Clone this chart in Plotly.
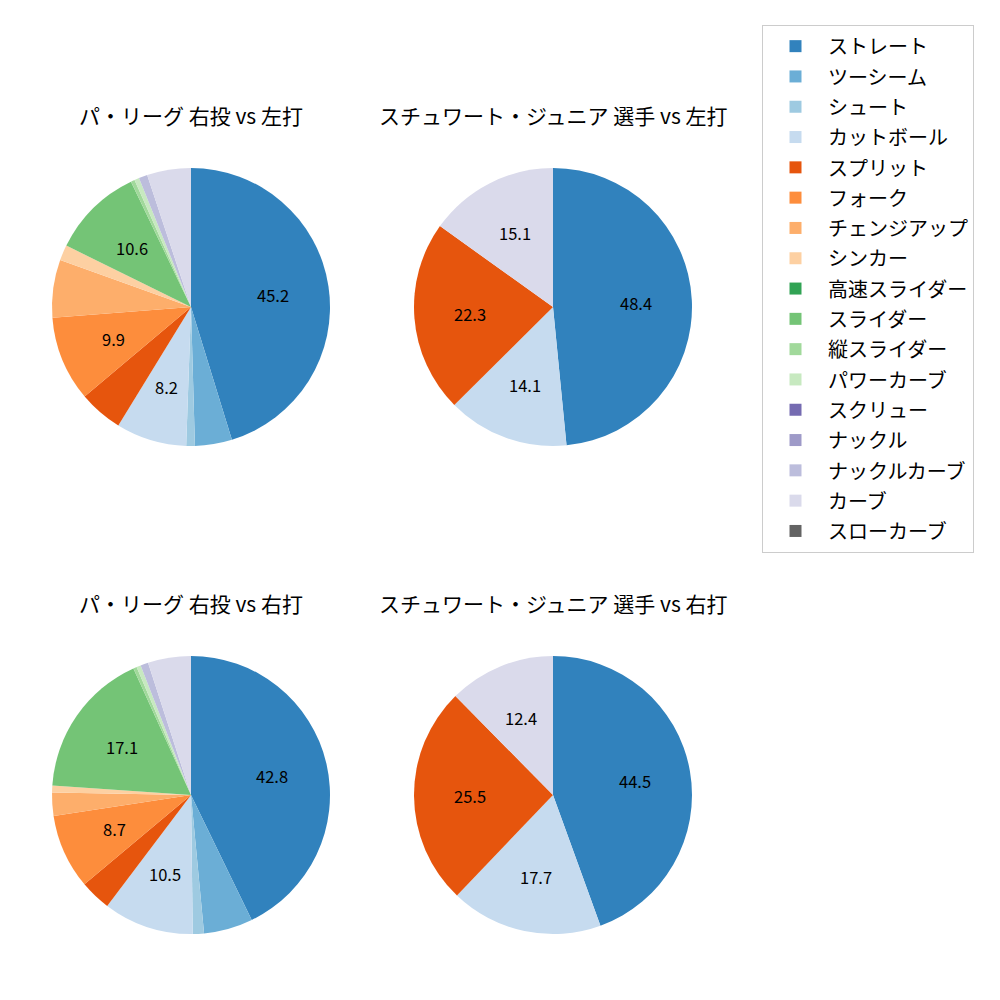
import math
import plotly.graph_objects as go

pitch_types = ["ストレート", "ツーシーム", "シュート", "カットボール", "スプリット", "フォーク",
               "チェンジアップ", "シンカー", "高速スライダー", "スライダー", "縦スライダー",
               "パワーカーブ", "スクリュー", "ナックル", "ナックルカーブ", "カーブ", "スローカーブ"]
colors = ["#3182bd", "#6baed6", "#9ecae1", "#c6dbef", "#e6550d", "#fd8d3c", "#fdae6b", "#fdd0a2",
          "#31a354", "#74c476", "#a1d99b", "#c7e9c0", "#756bb1", "#9e9ac8", "#bcbddc", "#dadaeb",
          "#636363"]

# percentages per pitch type (same order as pitch_types)
league_vs_left = [45.2, 4.3, 1.0, 8.2, 5.1, 9.9, 6.7, 1.8, 0.0, 10.6, 0.45, 0.55, 0.0, 0.0, 1.0, 5.1, 0.0]
player_vs_left = [48.4, 0.0, 0.0, 14.1, 22.3, 0.0, 0.0, 0.0, 0.0, 0.0, 0.0, 0.0, 0.0, 0.0, 0.0, 15.1, 0.0]
league_vs_right = [42.8, 5.7, 1.3, 10.5, 3.6, 8.7, 2.7, 0.8, 0.0, 17.1, 0.4, 0.5, 0.0, 0.0, 0.9, 5.0, 0.0]
player_vs_right = [44.5, 0.0, 0.0, 17.7, 25.5, 0.0, 0.0, 0.0, 0.0, 0.0, 0.0, 0.0, 0.0, 0.0, 0.0, 12.4, 0.0]

titles = ["パ・リーグ 右投 vs 左打", "スチュワート・ジュニア 選手 vs 左打",
          "パ・リーグ 右投 vs 右打", "スチュワート・ジュニア 選手 vs 右打"]

FONT = "Noto Sans CJK JP"
LABEL_MIN = 8.0

domains = [
    dict(x=[0.052, 0.330], y=[0.554, 0.832]),
    dict(x=[0.414, 0.692], y=[0.554, 0.832]),
    dict(x=[0.052, 0.330], y=[0.066, 0.344]),
    dict(x=[0.414, 0.692], y=[0.066, 0.344]),
]

legend_labels = [f"<span style='font-size:20px'>{p}</span>" for p in pitch_types]

fig = go.Figure()
for i, vals in enumerate([league_vs_left, player_vs_left, league_vs_right, player_vs_right]):
    d = domains[i]
    fig.add_trace(go.Pie(
        labels=legend_labels, values=vals,
        textinfo="none",
        marker=dict(colors=colors, line=dict(width=0)),
        sort=False, direction="clockwise", rotation=0,
        domain=d, showlegend=(i == 0), hoverinfo="percent",
    ))
    # percentage labels at 0.6 of the radius along each slice's bisector (matplotlib autopct style)
    total = sum(vals)
    cx = (d["x"][0] + d["x"][1]) / 2
    cy = (d["y"][0] + d["y"][1]) / 2
    r = (d["x"][1] - d["x"][0]) / 2
    cum = 0.0
    for v in vals:
        if v >= LABEL_MIN:
            mid = 2 * math.pi * (cum + v / 2) / total
            fig.add_annotation(text=f"{v:.1f}", x=cx + 0.6 * r * math.sin(mid),
                               y=cy + 0.6 * r * math.cos(mid), xref="paper", yref="paper",
                               xanchor="center", yanchor="middle", showarrow=False,
                               font=dict(family=FONT, size=16.5, color="black"))
        cum += v

for i, t in enumerate(titles):
    d = domains[i]
    fig.add_annotation(text=t, x=(d["x"][0] + d["x"][1]) / 2, y=d["y"][1] + 0.053,
                       xref="paper", yref="paper", xanchor="center", yanchor="middle",
                       showarrow=False, font=dict(family=FONT, size=21, color="black"))

fig.update_layout(
    width=1000, height=1000, margin=dict(l=0, r=0, t=0, b=0),
    paper_bgcolor="white", plot_bgcolor="white",
    font=dict(family=FONT, color="black"),
    legend=dict(x=0.762, y=0.975, xanchor="left", yanchor="top",
                bordercolor="#cccccc", borderwidth=1, bgcolor="white",
                font=dict(family=FONT, size=21, color="black"), traceorder="normal",
                itemwidth=55, entrywidth=140, entrywidthmode="pixels"),
)

fig.write_html("out.html")
